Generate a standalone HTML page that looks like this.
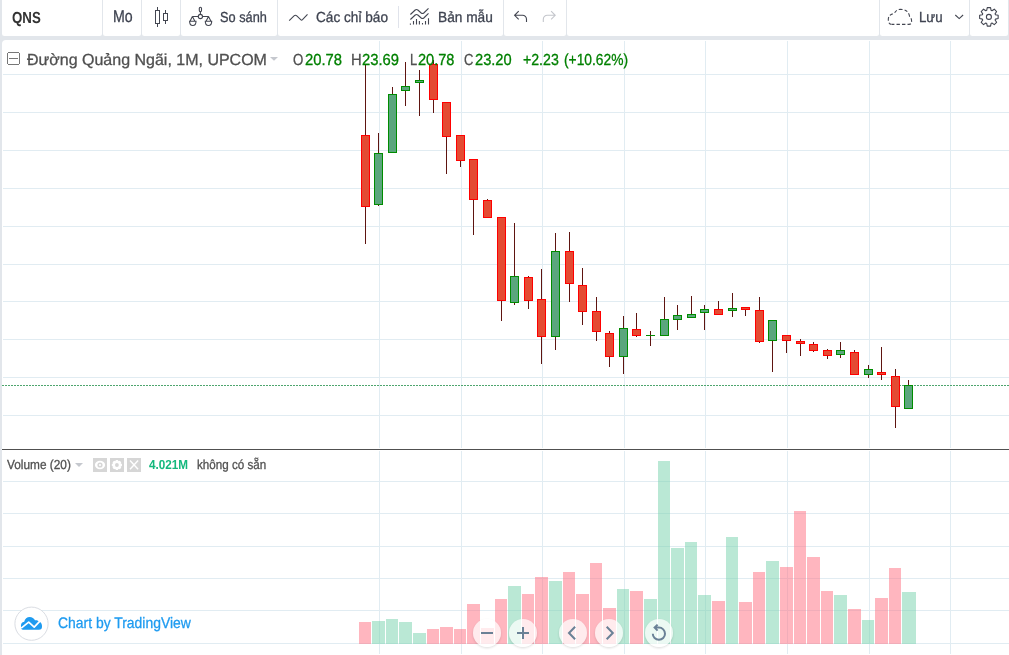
<!DOCTYPE html>
<html><head><meta charset="utf-8"><style>
html,body{margin:0;padding:0}
body{width:1009px;height:655px;overflow:hidden;background:#e2e6eb;position:relative;font-family:"Liberation Sans",sans-serif}
.seg{position:absolute;top:0;height:36px;background:#fff;border-radius:0 0 2.5px 2.5px}
.chart{position:absolute;left:2px;top:40px;width:1007px;height:615px;background:#fff;border-top-left-radius:4px}
span{position:absolute;white-space:pre;line-height:1;transform-origin:0 0;text-rendering:geometricPrecision}
</style></head><body>
<div class="seg" style="left:2px;width:100px"></div><div class="seg" style="left:103px;width:38px"></div><div class="seg" style="left:142px;width:38px"></div><div class="seg" style="left:181px;width:96px"></div><div class="seg" style="left:278px;width:225px"></div><div class="seg" style="left:504px;width:62px"></div><div class="seg" style="left:567px;width:312px"></div><div class="seg" style="left:880px;width:89px"></div><div class="seg" style="left:970px;width:38px"></div>
<div class="chart"></div>
<svg width="1009" height="655" viewBox="0 0 1009 655" style="position:absolute;left:0;top:0">
<defs><filter id="bl" x="-10%" y="-10%" width="120%" height="120%"><feGaussianBlur stdDeviation="1.1"/></filter></defs>
<g shape-rendering="crispEdges"><rect x="3" y="74" width="1006" height="1" fill="#e1ecf2"/><rect x="3" y="112" width="1006" height="1" fill="#e1ecf2"/><rect x="3" y="150" width="1006" height="1" fill="#e1ecf2"/><rect x="3" y="188" width="1006" height="1" fill="#e1ecf2"/><rect x="3" y="226" width="1006" height="1" fill="#e1ecf2"/><rect x="3" y="264" width="1006" height="1" fill="#e1ecf2"/><rect x="3" y="301" width="1006" height="1" fill="#e1ecf2"/><rect x="3" y="339" width="1006" height="1" fill="#e1ecf2"/><rect x="3" y="377" width="1006" height="1" fill="#e1ecf2"/><rect x="3" y="415" width="1006" height="1" fill="#e1ecf2"/><rect x="379" y="41" width="1" height="407" fill="#e1ecf2"/><rect x="461" y="41" width="1" height="407" fill="#e1ecf2"/><rect x="542" y="41" width="1" height="407" fill="#e1ecf2"/><rect x="624" y="41" width="1" height="407" fill="#e1ecf2"/><rect x="705" y="41" width="1" height="407" fill="#e1ecf2"/><rect x="787" y="41" width="1" height="407" fill="#e1ecf2"/><rect x="869" y="41" width="1" height="407" fill="#e1ecf2"/><rect x="950" y="41" width="1" height="407" fill="#e1ecf2"/><rect x="3" y="481" width="1006" height="1" fill="#e1ecf2"/><rect x="3" y="513" width="1006" height="1" fill="#e1ecf2"/><rect x="3" y="546" width="1006" height="1" fill="#e1ecf2"/><rect x="3" y="578" width="1006" height="1" fill="#e1ecf2"/><rect x="3" y="610" width="1006" height="1" fill="#e1ecf2"/><rect x="3" y="643" width="1006" height="1" fill="#e1ecf2"/><rect x="379" y="451" width="1" height="203" fill="#e1ecf2"/><rect x="461" y="451" width="1" height="203" fill="#e1ecf2"/><rect x="542" y="451" width="1" height="203" fill="#e1ecf2"/><rect x="624" y="451" width="1" height="203" fill="#e1ecf2"/><rect x="705" y="451" width="1" height="203" fill="#e1ecf2"/><rect x="787" y="451" width="1" height="203" fill="#e1ecf2"/><rect x="869" y="451" width="1" height="203" fill="#e1ecf2"/><rect x="950" y="451" width="1" height="203" fill="#e1ecf2"/><rect x="2" y="449" width="1007" height="1" fill="#505050"/><rect x="1" y="449" width="1" height="1" fill="#eef0f5"/><line x1="2" y1="385.5" x2="1009" y2="385.5" stroke="#4ea56e" stroke-width="1" stroke-dasharray="2 1"/><rect x="365" y="65" width="1" height="179" fill="#5e1410"/><rect x="361" y="135" width="9" height="72" fill="#ff0000"/><rect x="362" y="136" width="7" height="70" fill="#e44b33"/><rect x="378" y="133" width="1" height="73" fill="#5e1410"/><rect x="374" y="153" width="9" height="52" fill="#008c00"/><rect x="375" y="154" width="7" height="50" fill="#5ba67d"/><rect x="392" y="87" width="1" height="66" fill="#5e1410"/><rect x="388" y="94" width="9" height="59" fill="#008c00"/><rect x="389" y="95" width="7" height="57" fill="#5ba67d"/><rect x="405" y="62" width="1" height="44" fill="#5e1410"/><rect x="401" y="86" width="9" height="5" fill="#008c00"/><rect x="402" y="87" width="7" height="3" fill="#5ba67d"/><rect x="419" y="70" width="1" height="46" fill="#5e1410"/><rect x="415" y="80" width="9" height="3" fill="#008c00"/><rect x="416" y="81" width="7" height="1" fill="#5ba67d"/><rect x="433" y="60" width="1" height="53" fill="#5e1410"/><rect x="429" y="64" width="9" height="36" fill="#ff0000"/><rect x="430" y="65" width="7" height="34" fill="#e44b33"/><rect x="446" y="102" width="1" height="72" fill="#5e1410"/><rect x="442" y="102" width="9" height="35" fill="#ff0000"/><rect x="443" y="103" width="7" height="33" fill="#e44b33"/><rect x="460" y="135" width="1" height="32" fill="#5e1410"/><rect x="456" y="135" width="9" height="26" fill="#ff0000"/><rect x="457" y="136" width="7" height="24" fill="#e44b33"/><rect x="473" y="159" width="1" height="76" fill="#5e1410"/><rect x="469" y="159" width="9" height="41" fill="#ff0000"/><rect x="470" y="160" width="7" height="39" fill="#e44b33"/><rect x="487" y="199" width="1" height="19" fill="#5e1410"/><rect x="483" y="200" width="9" height="18" fill="#ff0000"/><rect x="484" y="201" width="7" height="16" fill="#e44b33"/><rect x="501" y="217" width="1" height="104" fill="#5e1410"/><rect x="497" y="217" width="9" height="84" fill="#ff0000"/><rect x="498" y="218" width="7" height="82" fill="#e44b33"/><rect x="514" y="223" width="1" height="82" fill="#5e1410"/><rect x="510" y="276" width="9" height="27" fill="#008c00"/><rect x="511" y="277" width="7" height="25" fill="#5ba67d"/><rect x="528" y="276" width="1" height="33" fill="#5e1410"/><rect x="524" y="277" width="9" height="24" fill="#ff0000"/><rect x="525" y="278" width="7" height="22" fill="#e44b33"/><rect x="541" y="269" width="1" height="95" fill="#5e1410"/><rect x="537" y="299" width="9" height="38" fill="#ff0000"/><rect x="538" y="300" width="7" height="36" fill="#e44b33"/><rect x="555" y="233" width="1" height="117" fill="#5e1410"/><rect x="551" y="251" width="9" height="86" fill="#008c00"/><rect x="552" y="252" width="7" height="84" fill="#5ba67d"/><rect x="569" y="232" width="1" height="70" fill="#5e1410"/><rect x="565" y="251" width="9" height="33" fill="#ff0000"/><rect x="566" y="252" width="7" height="31" fill="#e44b33"/><rect x="582" y="268" width="1" height="57" fill="#5e1410"/><rect x="578" y="285" width="9" height="27" fill="#ff0000"/><rect x="579" y="286" width="7" height="25" fill="#e44b33"/><rect x="596" y="297" width="1" height="44" fill="#5e1410"/><rect x="592" y="311" width="9" height="21" fill="#ff0000"/><rect x="593" y="312" width="7" height="19" fill="#e44b33"/><rect x="609" y="331" width="1" height="36" fill="#5e1410"/><rect x="605" y="333" width="9" height="24" fill="#ff0000"/><rect x="606" y="334" width="7" height="22" fill="#e44b33"/><rect x="623" y="316" width="1" height="58" fill="#5e1410"/><rect x="619" y="328" width="9" height="29" fill="#008c00"/><rect x="620" y="329" width="7" height="27" fill="#5ba67d"/><rect x="636" y="313" width="1" height="24" fill="#5e1410"/><rect x="632" y="329" width="9" height="7" fill="#ff0000"/><rect x="633" y="330" width="7" height="5" fill="#e44b33"/><rect x="650" y="331" width="1" height="15" fill="#5e1410"/><rect x="646" y="335" width="9" height="1" fill="#008c00"/><rect x="664" y="297" width="1" height="39" fill="#5e1410"/><rect x="660" y="319" width="9" height="17" fill="#008c00"/><rect x="661" y="320" width="7" height="15" fill="#5ba67d"/><rect x="677" y="305" width="1" height="25" fill="#5e1410"/><rect x="673" y="315" width="9" height="5" fill="#008c00"/><rect x="674" y="316" width="7" height="3" fill="#5ba67d"/><rect x="691" y="296" width="1" height="22" fill="#5e1410"/><rect x="687" y="314" width="9" height="4" fill="#008c00"/><rect x="688" y="315" width="7" height="2" fill="#5ba67d"/><rect x="704" y="305" width="1" height="25" fill="#5e1410"/><rect x="700" y="309" width="9" height="4" fill="#008c00"/><rect x="701" y="310" width="7" height="2" fill="#5ba67d"/><rect x="718" y="301" width="1" height="14" fill="#5e1410"/><rect x="714" y="309" width="9" height="6" fill="#ff0000"/><rect x="715" y="310" width="7" height="4" fill="#e44b33"/><rect x="732" y="293" width="1" height="24" fill="#5e1410"/><rect x="728" y="308" width="9" height="3" fill="#008c00"/><rect x="729" y="309" width="7" height="1" fill="#5ba67d"/><rect x="745" y="307" width="1" height="9" fill="#5e1410"/><rect x="741" y="307" width="9" height="3" fill="#ff0000"/><rect x="742" y="308" width="7" height="1" fill="#e44b33"/><rect x="759" y="297" width="1" height="46" fill="#5e1410"/><rect x="755" y="310" width="9" height="32" fill="#ff0000"/><rect x="756" y="311" width="7" height="30" fill="#e44b33"/><rect x="772" y="320" width="1" height="52" fill="#5e1410"/><rect x="768" y="320" width="9" height="21" fill="#008c00"/><rect x="769" y="321" width="7" height="19" fill="#5ba67d"/><rect x="786" y="335" width="1" height="18" fill="#5e1410"/><rect x="782" y="335" width="9" height="6" fill="#ff0000"/><rect x="783" y="336" width="7" height="4" fill="#e44b33"/><rect x="800" y="339" width="1" height="17" fill="#5e1410"/><rect x="796" y="341" width="9" height="3" fill="#ff0000"/><rect x="797" y="342" width="7" height="1" fill="#e44b33"/><rect x="813" y="342" width="1" height="10" fill="#5e1410"/><rect x="809" y="344" width="9" height="7" fill="#ff0000"/><rect x="810" y="345" width="7" height="5" fill="#e44b33"/><rect x="827" y="349" width="1" height="10" fill="#5e1410"/><rect x="823" y="350" width="9" height="6" fill="#ff0000"/><rect x="824" y="351" width="7" height="4" fill="#e44b33"/><rect x="840" y="342" width="1" height="16" fill="#5e1410"/><rect x="836" y="350" width="9" height="5" fill="#008c00"/><rect x="837" y="351" width="7" height="3" fill="#5ba67d"/><rect x="854" y="350" width="1" height="25" fill="#5e1410"/><rect x="850" y="352" width="9" height="23" fill="#ff0000"/><rect x="851" y="353" width="7" height="21" fill="#e44b33"/><rect x="868" y="365" width="1" height="13" fill="#5e1410"/><rect x="864" y="369" width="9" height="6" fill="#008c00"/><rect x="865" y="370" width="7" height="4" fill="#5ba67d"/><rect x="881" y="347" width="1" height="33" fill="#5e1410"/><rect x="877" y="372" width="9" height="3" fill="#ff0000"/><rect x="878" y="373" width="7" height="1" fill="#e44b33"/><rect x="895" y="369" width="1" height="59" fill="#5e1410"/><rect x="891" y="376" width="9" height="31" fill="#ff0000"/><rect x="892" y="377" width="7" height="29" fill="#e44b33"/><rect x="908" y="380" width="1" height="29" fill="#5e1410"/><rect x="904" y="385" width="9" height="24" fill="#008c00"/><rect x="905" y="386" width="7" height="22" fill="#5ba67d"/><rect x="359" y="622" width="12" height="22" fill="rgba(255,110,128,0.5)"/><rect x="372" y="621" width="13" height="23" fill="rgba(118,210,172,0.5)"/><rect x="386" y="619" width="12" height="25" fill="rgba(118,210,172,0.5)"/><rect x="399" y="622" width="13" height="22" fill="rgba(118,210,172,0.5)"/><rect x="413" y="633" width="13" height="11" fill="rgba(118,210,172,0.5)"/><rect x="427" y="629" width="12" height="15" fill="rgba(255,110,128,0.5)"/><rect x="440" y="627" width="13" height="17" fill="rgba(255,110,128,0.5)"/><rect x="454" y="629" width="12" height="15" fill="rgba(255,110,128,0.5)"/><rect x="467" y="604" width="13" height="40" fill="rgba(255,110,128,0.5)"/><rect x="481" y="628" width="13" height="16" fill="rgba(255,110,128,0.5)"/><rect x="495" y="599" width="12" height="45" fill="rgba(255,110,128,0.5)"/><rect x="508" y="586" width="13" height="58" fill="rgba(118,210,172,0.5)"/><rect x="522" y="594" width="12" height="50" fill="rgba(255,110,128,0.5)"/><rect x="535" y="577" width="13" height="67" fill="rgba(255,110,128,0.5)"/><rect x="549" y="581" width="13" height="63" fill="rgba(118,210,172,0.5)"/><rect x="563" y="572" width="12" height="72" fill="rgba(255,110,128,0.5)"/><rect x="576" y="594" width="13" height="50" fill="rgba(255,110,128,0.5)"/><rect x="590" y="563" width="12" height="81" fill="rgba(255,110,128,0.5)"/><rect x="603" y="608" width="13" height="36" fill="rgba(255,110,128,0.5)"/><rect x="617" y="589" width="12" height="55" fill="rgba(118,210,172,0.5)"/><rect x="630" y="591" width="13" height="53" fill="rgba(255,110,128,0.5)"/><rect x="644" y="599" width="13" height="45" fill="rgba(118,210,172,0.5)"/><rect x="658" y="461" width="12" height="183" fill="rgba(118,210,172,0.5)"/><rect x="671" y="548" width="13" height="96" fill="rgba(118,210,172,0.5)"/><rect x="685" y="542" width="12" height="102" fill="rgba(118,210,172,0.5)"/><rect x="698" y="595" width="13" height="49" fill="rgba(118,210,172,0.5)"/><rect x="712" y="601" width="13" height="43" fill="rgba(255,110,128,0.5)"/><rect x="726" y="537" width="12" height="107" fill="rgba(118,210,172,0.5)"/><rect x="739" y="602" width="13" height="42" fill="rgba(255,110,128,0.5)"/><rect x="753" y="572" width="12" height="72" fill="rgba(255,110,128,0.5)"/><rect x="766" y="561" width="13" height="83" fill="rgba(118,210,172,0.5)"/><rect x="780" y="567" width="13" height="77" fill="rgba(255,110,128,0.5)"/><rect x="794" y="511" width="12" height="133" fill="rgba(255,110,128,0.5)"/><rect x="807" y="557" width="13" height="87" fill="rgba(255,110,128,0.5)"/><rect x="821" y="591" width="12" height="53" fill="rgba(255,110,128,0.5)"/><rect x="834" y="595" width="13" height="49" fill="rgba(118,210,172,0.5)"/><rect x="848" y="609" width="13" height="35" fill="rgba(255,110,128,0.5)"/><rect x="862" y="620" width="12" height="24" fill="rgba(118,210,172,0.5)"/><rect x="875" y="598" width="13" height="46" fill="rgba(255,110,128,0.5)"/><rect x="889" y="568" width="12" height="76" fill="rgba(255,110,128,0.5)"/><rect x="902" y="592" width="14" height="52" fill="rgba(118,210,172,0.5)"/></g>
<g stroke="#434651" stroke-width="1" fill="none">
<rect x="155.5" y="10.5" width="4" height="13"/><path d="M157.5 7v3.5M157.5 23.5V27"/>
<rect x="163.5" y="13.5" width="4" height="7"/><path d="M165.5 10v3.5M165.5 20.5V24"/></g><g stroke="#434651" stroke-width="1.1" fill="none">
<rect x="199.3" y="7.2" width="2.2" height="4.4" rx="1.1"/><path d="M200.4 11.6v2.7"/>
<circle cx="200.4" cy="16.5" r="2.1"/><path d="M192.4 16.5h5.9M202.5 16.5h6.1"/>
<path d="M192.4 16.5L190 21.2M192.4 16.5L194.9 21.2M189.6 21.2h6.4q0 4.3-3.2 4.3q-3.2 0-3.2-4.3z"/>
<path d="M208.5 16.5L206 21.2M208.5 16.5L211 21.2M205.3 21.2h6.4q0 4.3-3.2 4.3q-3.2 0-3.2-4.3z"/></g><path d="M289.2 20.6L294 15.8Q295.4 14.6 296.8 15.8L300.7 19.7Q301.6 20.5 302.5 19.7L307.5 14.4" stroke="#434651" stroke-width="1.1" fill="none"/><rect x="398" y="6" width="1" height="22" fill="#e0e3eb"/><g stroke="#434651" stroke-width="1.1" fill="none">
<path d="M410.4 14.5L415.2 10Q416.5 8.9 417.8 10L421.2 13Q422.5 14 423.8 13L428.5 8.3"/>
<path d="M410.4 19.5L415.2 15Q416.5 13.9 417.8 15L421.2 18Q422.5 19 423.8 18L428.5 13.3"/>
<path d="M410.4 23.5v1.2M413.5 21v3.6M416.5 19v5.6M419.4 21v3.6M422.5 23v1.6M425.5 21v3.6M428.5 18.3v6.3"/></g><path d="M518.7 11.2L514.6 15.3L518.7 19.4M514.6 15.3H522.5A4 4 0 0 1 526.5 19.3V21.9" stroke="#434651" stroke-width="1.1" fill="none"/><path d="M551.1 11.2L555.2 15.3L551.1 19.4M555.2 15.3H547.3A4 4 0 0 0 543.3 19.3V21.9" stroke="#c4c6cc" stroke-width="1.1" fill="none"/><path d="M892 24.4H909Q911.6 24.4 911.6 21.2Q911.6 18 909.6 16.6Q908.6 9.4 900.5 9.4Q896 9.4 894.3 13.6Q888.3 14.3 888.3 19.6Q888.3 24.4 892 24.4Z" stroke="#434651" stroke-width="1.1" fill="none" stroke-dasharray="3.4 2.1" stroke-dashoffset="1"/><path d="M955.3 15L959.2 18.6L963.1 15" stroke="#434651" stroke-width="1.1" fill="none"/><path d="M986.69 10.36 L987.26 7.64 L990.54 7.64 L991.11 10.36 L991.96 10.72 L994.28 9.19 L996.61 11.52 L995.08 13.84 L995.44 14.69 L998.16 15.26 L998.16 18.54 L995.44 19.11 L995.08 19.96 L996.61 22.28 L994.28 24.61 L991.96 23.08 L991.11 23.44 L990.54 26.16 L987.26 26.16 L986.69 23.44 L985.84 23.08 L983.52 24.61 L981.19 22.28 L982.72 19.96 L982.36 19.11 L979.64 18.54 L979.64 15.26 L982.36 14.69 L982.72 13.84 L981.19 11.52 L983.52 9.19 L985.84 10.72Z" stroke="#434651" stroke-width="1.1" fill="none" stroke-linejoin="round"/><circle cx="988.9" cy="16.9" r="2.5" stroke="#434651" stroke-width="1.1" fill="none"/><g fill="#777" shape-rendering="crispEdges"><rect x="8" y="52" width="11" height="1"/><rect x="8" y="64" width="11" height="1"/><rect x="7" y="53" width="1" height="11"/><rect x="19" y="53" width="1" height="11"/><rect x="9" y="58" width="9" height="1"/></g><path d="M270 57h8l-4 3.8z" fill="#c5c8ce"/><path d="M75 463h8l-4 3.9z" fill="#c5c8ce"/><rect x="93" y="458" width="14" height="14" fill="#d6d6d6"/><rect x="110" y="458" width="14" height="14" fill="#d6d6d6"/><rect x="127" y="458" width="14" height="14" fill="#d6d6d6"/><ellipse cx="100" cy="465" rx="5.1" ry="4.2" fill="#fff"/><circle cx="100" cy="465" r="2.6" fill="#d6d6d6"/><circle cx="100" cy="465" r="1.1" fill="#fff"/><path d="M115.25 461.46 L115.81 459.92 L117.99 459.92 L118.55 461.46 L118.24 461.34 L119.72 460.63 L121.27 462.18 L120.56 463.66 L120.44 463.35 L121.98 463.91 L121.98 466.09 L120.44 466.65 L120.56 466.34 L121.27 467.82 L119.72 469.37 L118.24 468.66 L118.55 468.54 L117.99 470.08 L115.81 470.08 L115.25 468.54 L115.56 468.66 L114.08 469.37 L112.53 467.82 L113.24 466.34 L113.36 466.65 L111.82 466.09 L111.82 463.91 L113.36 463.35 L113.24 463.66 L112.53 462.18 L114.08 460.63 L115.56 461.34Z" fill="#fff"/><circle cx="116.9" cy="465" r="1.9" fill="#d6d6d6"/><path d="M130 460.5l8.1 8.7M138.1 460.5l-8.1 8.7" stroke="#fff" stroke-width="1.4"/><circle cx="31.5" cy="623.7" r="16.6" fill="#fff" stroke="#dadde3" stroke-width="1"/><path d="M21 627C20.6 624 21.8 622 24.2 621.8C24.9 618.6 27 617 29.7 617C32.2 617 34 618.3 35 620.3C36.6 620 38.5 620.6 39.5 621.8C41.5 622.6 42 624.5 42 626.5C42 628.6 41 629.8 39 629.8L23 629.8C21.6 629.8 21 628.8 21 627Z" fill="#1e9bf0"/><path d="M21.2 628.2L28.7 622.1L34.2 627.1L39.9 621.1" stroke="#fff" stroke-width="1.7" fill="none" stroke-linejoin="round"/>
<mask id="bm"><rect x="0" y="0" width="1009" height="655" fill="#fff"/><circle cx="487" cy="633" r="14" fill="#000"/><circle cx="523" cy="633" r="14" fill="#000"/><circle cx="573" cy="633" r="14" fill="#000"/><circle cx="609" cy="633" r="14" fill="#000"/><circle cx="659" cy="633" r="14" fill="#000"/></mask><g mask="url(#bm)" filter="url(#bl)"><circle cx="487" cy="634.2" r="14" fill="rgba(0,0,0,0.13)"/><circle cx="523" cy="634.2" r="14" fill="rgba(0,0,0,0.13)"/><circle cx="573" cy="634.2" r="14" fill="rgba(0,0,0,0.13)"/><circle cx="609" cy="634.2" r="14" fill="rgba(0,0,0,0.13)"/><circle cx="659" cy="634.2" r="14" fill="rgba(0,0,0,0.13)"/></g><circle cx="487" cy="633" r="14" fill="rgba(255,255,255,0.72)"/><circle cx="523" cy="633" r="14" fill="rgba(255,255,255,0.72)"/><circle cx="573" cy="633" r="14" fill="rgba(255,255,255,0.72)"/><circle cx="609" cy="633" r="14" fill="rgba(255,255,255,0.72)"/><circle cx="659" cy="633" r="14" fill="rgba(255,255,255,0.72)"/><path d="M481 633h12" stroke="#6a8196" stroke-width="2"/><path d="M517 633h12M523 627v12" stroke="#6a8196" stroke-width="2"/><path d="M575.1 626.8L569 633L575.1 639.2" stroke="#6a8196" stroke-width="2" fill="none"/><path d="M606.7 626.8L612.8 633L606.7 639.2" stroke="#6a8196" stroke-width="2" fill="none"/><path d="M652.8 633.7A6.1 6.1 0 1 0 658.9 627.6H655.5M657.6 624.6L654.6 627.6L657.6 630.6" stroke="#6a8196" stroke-width="2" fill="none"/>
</svg>
<span style="left:11.73px;top:11.00px;font-size:15.99px;font-weight:700;color:#333333;transform:scaleX(0.8305)">QNS</span>
<span style="left:112.70px;top:8.48px;font-size:17.01px;font-weight:400;color:#3e4350;transform:scaleX(0.8336);-webkit-text-stroke:0.3px #3e4350">Mo</span>
<span style="left:219.59px;top:10.79px;font-size:14.53px;font-weight:400;color:#3e4350;transform:scaleX(0.8791);-webkit-text-stroke:0.3px #3e4350">So sánh</span>
<span style="left:316.41px;top:10.79px;font-size:14.53px;font-weight:400;color:#3e4350;transform:scaleX(0.9387);-webkit-text-stroke:0.3px #3e4350">Các chỉ báo</span>
<span style="left:438.05px;top:10.79px;font-size:14.53px;font-weight:400;color:#3e4350;transform:scaleX(0.9436);-webkit-text-stroke:0.3px #3e4350">Bản mẫu</span>
<span style="left:919.08px;top:10.79px;font-size:14.53px;font-weight:400;color:#3e4350;transform:scaleX(0.9134);-webkit-text-stroke:0.3px #3e4350">Lưu</span>
<span style="left:26.64px;top:52.76px;font-size:15.99px;font-weight:400;color:#505050;transform:scaleX(1.0009);-webkit-text-stroke:0.3px #505050">Đường Quảng Ngãi, 1M, UPCOM</span>
<span style="left:292.78px;top:52.76px;font-size:15.99px;font-weight:400;color:#505050;transform:scaleX(0.8296);-webkit-text-stroke:0.3px #505050">O</span>
<span style="left:304.63px;top:52.76px;font-size:15.99px;font-weight:400;color:#008000;transform:scaleX(0.9256);-webkit-text-stroke:0.3px #008000">20.78</span>
<span style="left:350.52px;top:52.76px;font-size:15.99px;font-weight:400;color:#505050;transform:scaleX(0.9249);-webkit-text-stroke:0.3px #505050">H</span>
<span style="left:362.13px;top:52.76px;font-size:15.99px;font-weight:400;color:#008000;transform:scaleX(0.9257);-webkit-text-stroke:0.3px #008000">23.69</span>
<span style="left:409.53px;top:52.76px;font-size:15.99px;font-weight:400;color:#505050;transform:scaleX(0.8070);-webkit-text-stroke:0.3px #505050">L</span>
<span style="left:418.24px;top:52.76px;font-size:15.99px;font-weight:400;color:#008000;transform:scaleX(0.9102);-webkit-text-stroke:0.3px #008000">20.78</span>
<span style="left:463.87px;top:52.76px;font-size:15.99px;font-weight:400;color:#505050;transform:scaleX(0.8121);-webkit-text-stroke:0.3px #505050">C</span>
<span style="left:474.94px;top:52.76px;font-size:15.99px;font-weight:400;color:#008000;transform:scaleX(0.9156);-webkit-text-stroke:0.3px #008000">23.20</span>
<span style="left:523.26px;top:52.76px;font-size:15.99px;font-weight:400;color:#008000;transform:scaleX(0.8842);-webkit-text-stroke:0.3px #008000">+2.23</span>
<span style="left:563.80px;top:52.76px;font-size:15.99px;font-weight:400;color:#008000;transform:scaleX(0.8631);-webkit-text-stroke:0.3px #008000">(+10.62%)</span>
<span style="left:7.28px;top:457.79px;font-size:13.08px;font-weight:400;color:#505050;transform:scaleX(0.9054);-webkit-text-stroke:0.3px #505050">Volume (20)</span>
<span style="left:149.14px;top:458.00px;font-size:13.08px;font-weight:700;color:#14b87d;transform:scaleX(0.8955)">4.021M</span>
<span style="left:197.20px;top:457.79px;font-size:13.08px;font-weight:400;color:#505050;transform:scaleX(0.8891);-webkit-text-stroke:0.3px #505050">không có sẵn</span>
<span style="left:57.62px;top:615.78px;font-size:15.26px;font-weight:400;color:#1e9bf0;transform:scaleX(0.9127);-webkit-text-stroke:0.3px #1e9bf0">Chart by TradingView</span>
</body></html>
